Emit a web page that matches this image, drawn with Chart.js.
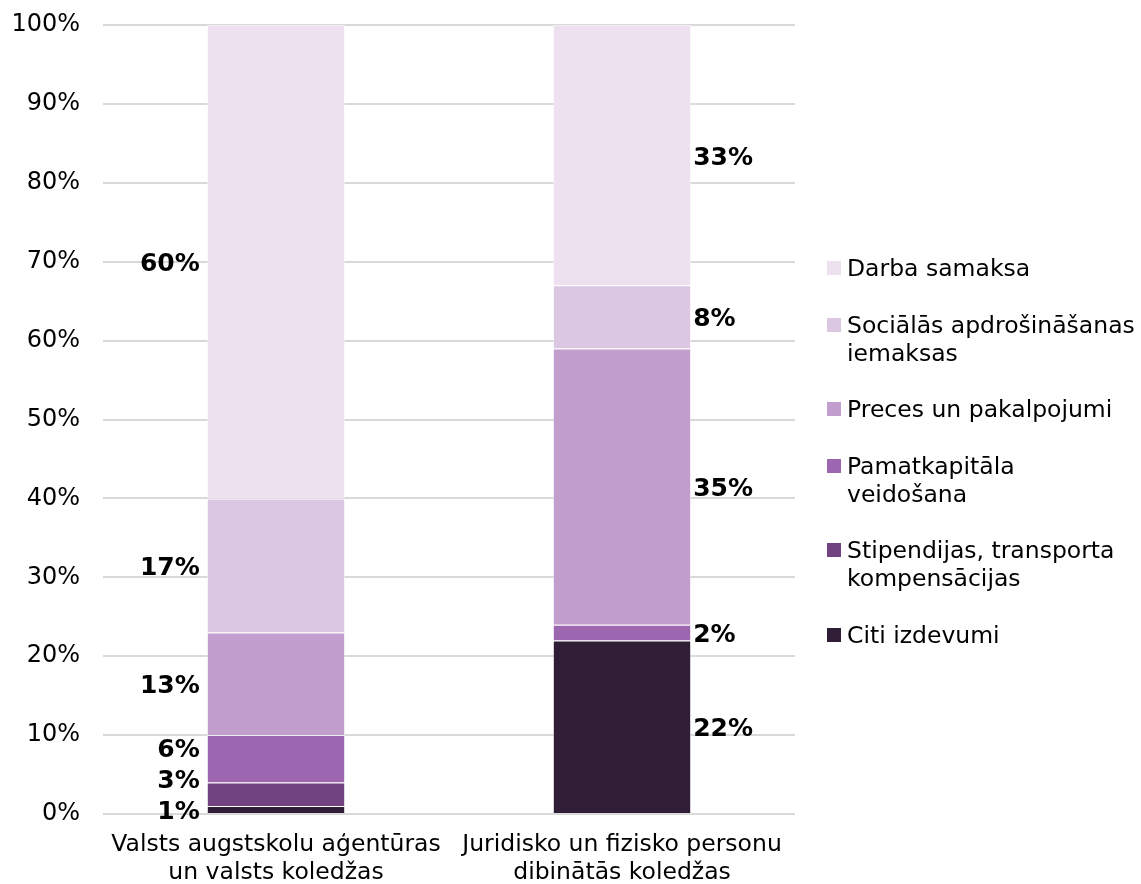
<!DOCTYPE html>
<html>
<head>
<meta charset="utf-8">
<script src="https://cdn.jsdelivr.net/npm/chart.js@4.4.1/dist/chart.umd.min.js"></script>
<style>
  html, body { margin: 0; padding: 0; background: #fff; }
  #wrap { position: relative; width: 1141px; height: 884px; }
  #legend { position: absolute; left: 827px; top: 254px; font-family: "DejaVu Sans", Verdana, sans-serif; font-size: 23.5px; color: #000; white-space: nowrap; }
  .item { display: flex; align-items: flex-start; margin-bottom: 28.6px; line-height: 28px; }
  .sw { width: 14px; height: 14px; margin-top: 7px; margin-right: 6px; flex: none; }
</style>
</head>
<body>
<div id="wrap">
  <canvas id="c" width="1141" height="884"></canvas>
  <div id="legend"></div>
</div>
<script>
const categories = [
  ["Valsts augstskolu aģentūras", "un valsts koledžas"],
  ["Juridisko un fizisko personu", "dibinātās koledžas"]
];
const seriesNames = [
  "Citi izdevumi",
  "Stipendijas, transporta kompensācijas",
  "Pamatkapitāla veidošana",
  "Preces un pakalpojumi",
  "Sociālās apdrošināšanas iemaksas",
  "Darba samaksa"
];
const legendLines = [
  ["Citi izdevumi"],
  ["Stipendijas, transporta", "kompensācijas"],
  ["Pamatkapitāla", "veidošana"],
  ["Preces un pakalpojumi"],
  ["Sociālās apdrošināšanas", "iemaksas"],
  ["Darba samaksa"]
];
const citi = [1, 22];
const stipendijas = [3, 0];
const pamatkapitals = [6, 2];
const preces = [13, 35];
const socialas = [17, 8];
const darba = [60, 33];
const yTicks = [0, 10, 20, 30, 40, 50, 60, 70, 80, 90, 100];
const colors = ["#2F1E36", "#714381", "#9C67B0", "#C29ECE", "#DCC7E3", "#EDE1F0"];

const seriesValues = [citi, stipendijas, pamatkapitals, preces, socialas, darba];
const FONT = '"DejaVu Sans", Verdana, sans-serif';

const datasets = seriesValues.map((vals, i) => ({
  label: seriesNames[i],
  data: vals,
  backgroundColor: colors[i],
  borderColor: 'rgba(255,255,255,0.55)',
  borderWidth: 1,
  borderSkipped: 'start',
  barPercentage: 0.4,
  categoryPercentage: 1.0
}));

const labelPlugin = {
  id: 'segLabels',
  afterDatasetsDraw(chart) {
    const ctx = chart.ctx;
    ctx.save();
    ctx.font = 'bold 25px ' + FONT;
    ctx.fillStyle = '#000';
    ctx.textBaseline = 'middle';
    const nCat = chart.data.labels.length;
    for (let c = 0; c < nCat; c++) {
      let lastY = Infinity;
      chart.data.datasets.forEach((ds, di) => {
        const v = ds.data[c];
        if (!v) return;
        const el = chart.getDatasetMeta(di).data[c];
        let y = (el.y + el.base) / 2;
        if (y > lastY - 31) y = lastY - 31;
        lastY = y;
        if (c === 0) {
          ctx.textAlign = 'right';
          ctx.fillText(v + '%', el.x - el.width / 2 - 7, y + 3);
        } else {
          ctx.textAlign = 'left';
          ctx.fillText(v + '%', el.x + el.width / 2 + 2, y + 3);
        }
      });
    }
    ctx.restore();
  }
};

const chart = new Chart(document.getElementById('c'), {
  type: 'bar',
  data: { labels: categories, datasets },
  plugins: [labelPlugin],
  options: {
    responsive: false,
    animation: false,
    layout: { padding: { left: 0, right: 346, top: 25, bottom: 0 } },
    plugins: { legend: { display: false }, tooltip: { enabled: false } },
    scales: {
      x: {
        stacked: true,
        grid: { display: false, drawTicks: false },
        border: { display: false },
        ticks: { color: '#000', font: { family: FONT, size: 23.5, lineHeight: 1.2 }, padding: 17, maxRotation: 0 },
        afterFit(s) { s.height = 70; s.paddingLeft = 0; s.paddingRight = 0; }
      },
      y: {
        stacked: true,
        min: 0, max: 100,
        afterBuildTicks(s) { s.ticks = yTicks.map(v => ({ value: v })); },
        grid: { color: '#D9D9D9', lineWidth: 2, drawTicks: false },
        border: { display: false },
        ticks: { color: '#000', font: { family: FONT, size: 24 }, padding: 23, callback: v => v + '%' },
        afterFit(s) { s.width = 103; s.paddingTop = 0; s.paddingBottom = 0; }
      }
    }
  }
});

const legendEl = document.getElementById('legend');
for (let i = seriesNames.length - 1; i >= 0; i--) {
  const item = document.createElement('div');
  item.className = 'item';
  const sw = document.createElement('div');
  sw.className = 'sw';
  sw.style.background = colors[i];
  const txt = document.createElement('div');
  txt.innerHTML = legendLines[i].join('<br>');
  item.appendChild(sw);
  item.appendChild(txt);
  legendEl.appendChild(item);
}
</script>
</body>
</html>
